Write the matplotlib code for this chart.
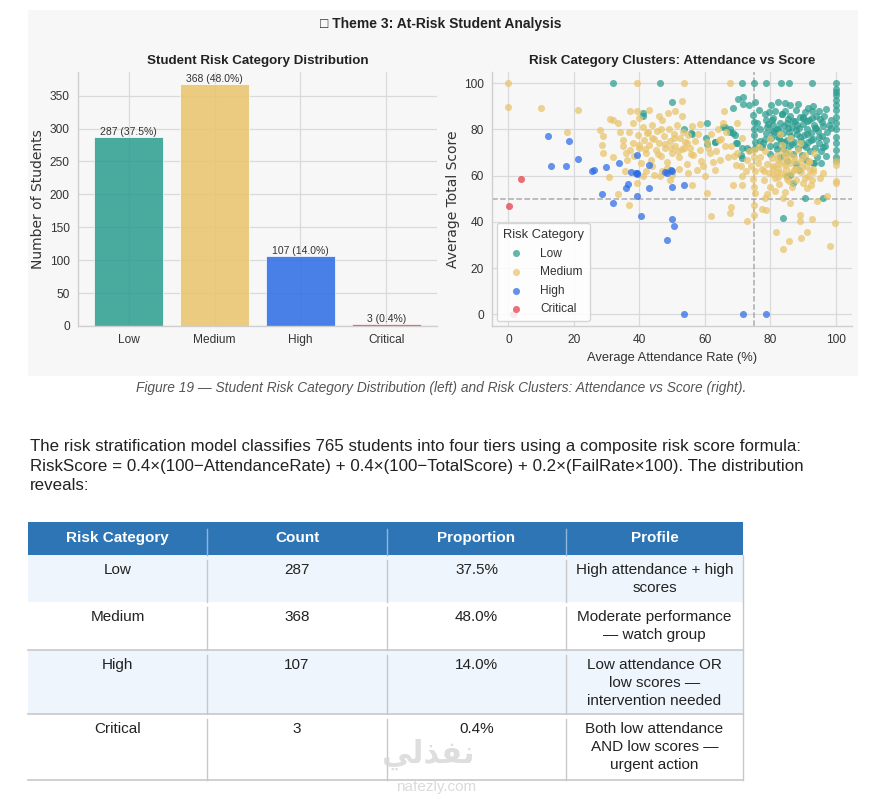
import matplotlib
matplotlib.use('Agg')
import matplotlib.pyplot as plt
from matplotlib.lines import Line2D
from matplotlib.patches import Rectangle

# ---- data ----
risk_categories = ['Low', 'Medium', 'High', 'Critical']
counts = [287, 368, 107, 3]
proportions = [37.5, 48.0, 14.0, 0.4]
profiles = [
    'High attendance + high\nscores',
    'Moderate performance\n\u2014 watch group',
    'Low attendance OR\nlow scores \u2014\nintervention needed',
    'Both low attendance\nAND low scores \u2014\nurgent action',
]
palette = {'Low': '#2a9d8f', 'Medium': '#e9c46a', 'High': '#2b6be5', 'Critical': '#e63946'}

low_att = [32.0, 46.3, 71.4, 75.0, 78.6, 83.4, 85.7, 92.9, 100.0,
           100.0, 100.0, 100.0, 100.0, 100.0, 100.0, 100.0, 100.0, 100.0, 100.0, 100.0, 100.0, 100.0, 100.0,
           50.0, 41.0, 41.2, 53.6, 56.0, 60.6, 60.3, 63.1, 66.2, 67.7, 68.7, 70.3, 71.6, 71.8, 73.4, 75.4,
           80.3, 82.3, 55.9, 60.6, 63.2, 65.7, 67.8, 69.3, 69.8, 71.3, 71.3, 73.4, 68.7, 69.7, 71.2, 72.8,
           74.8, 75.0, 75.2, 75.0, 75.3, 75.4, 78.5, 78.7, 78.9, 78.7, 78.4,
           77.0, 77.5, 77.8, 79.8, 80.2, 80.5, 80.8, 81.0, 81.5, 81.7, 82.0, 82.2, 82.5, 83.0, 83.2, 83.5,
           83.8, 84.0, 84.3, 84.6, 84.8, 85.0, 85.3, 85.6, 85.9, 86.2, 86.5, 86.8, 87.0, 87.3, 87.6, 87.9,
           88.2, 88.5, 88.8, 89.1, 89.4, 89.7, 90.0, 90.3, 90.6, 90.9, 91.2, 91.5, 91.8, 92.1, 92.4, 92.7,
           93.0, 93.3, 93.6, 93.9, 94.2, 94.5, 94.8, 95.1, 95.4, 95.7, 96.0, 96.5, 96.8, 97.2, 97.5, 98.0,
           98.5, 85.0, 88.0, 91.0, 93.5, 95.5, 83.0, 80.0, 86.0, 88.5, 91.5, 93.0, 95.0, 97.0, 98.5, 90.0,
           84.5, 79.5, 76.5, 76.0, 77.0,
           81.2, 82.8, 84.1, 85.4, 86.6, 87.8, 89.0, 90.2, 91.4, 92.6, 93.8, 95.0, 96.2, 80.6, 83.6, 86.9,
           89.9, 92.9, 95.9, 79.2, 82.1, 85.2, 88.1, 91.1, 94.1, 97.0,
           90.6, 96.2, 83.8, 85.0, 88.8, 93.2, 87.0, 86.0]
low_score = [100.0, 100.0, 100.0, 100.0, 100.0, 100.0, 100.0, 100.0, 100.0,
             97.7, 96.3, 94.8, 92.7, 90.5, 88.4, 85.5, 82.6, 80.0, 76.8, 74.0, 71.1, 68.2, 66.5,
             92.1, 87.1, 86.0, 80.1, 78.0, 83.0, 76.3, 74.8, 81.0, 80.1, 89.2, 93.4, 94.1, 91.2, 90.8, 92.0,
             90.8, 91.7, 78.3, 73.9, 74.7, 81.2, 79.0, 77.6, 74.0, 71.8, 67.5, 71.1, 78.4, 74.1, 69.1, 71.9,
             86.2, 83.3, 80.4, 77.6, 74.7, 71.8, 86.9, 84.0, 81.2, 78.3, 76.1,
             75.0, 72.5, 74.0, 73.0, 76.5, 79.5, 82.0, 85.0, 88.0, 73.5, 71.5, 77.0, 80.0, 83.0, 75.0, 86.5,
             72.0, 78.5, 81.5, 88.0, 70.0, 75.5, 84.5, 79.0, 73.0, 86.0, 77.0, 81.0, 69.5, 74.5, 83.5, 88.5,
             78.0, 72.0, 80.5, 85.5, 75.0, 69.0, 82.5, 77.5, 87.5, 72.5, 80.0, 74.5, 84.0, 70.5, 78.5, 88.0,
             76.0, 82.0, 72.0, 86.0, 68.0, 79.5, 74.0, 84.5, 70.5, 77.0, 81.5, 86.0, 73.0, 68.5, 79.0, 82.0,
             80.5, 66.5, 65.0, 67.0, 65.5, 65.5, 68.0, 69.5, 90.5, 91.0, 89.5, 90.0, 88.0, 89.0, 84.0, 85.0,
             91.5, 87.5, 88.5, 83.0, 80.0,
             78.8, 76.2, 74.6, 80.6, 73.8, 79.6, 76.6, 73.2, 78.2, 75.6, 80.8, 76.8, 72.4, 84.2, 86.6, 83.8,
             85.4, 84.8, 83.4, 82.4, 80.2, 82.6, 81.8, 83.6, 80.6, 75.6,
             50.4, 50.4, 41.7, 59.7, 62.6, 65.5, 56.8, 60.5]

medium_att = [0.0, 0.0, 10.1, 21.4, 17.8, 39.2, 53.6, 67.7, 53.1, 37.2, 39.2, 43.1, 48.9, 31.1, 32.1, 33.6,
              28.0, 29.0, 28.6, 29.0, 32.1, 35.0, 35.0, 37.2, 36.2, 35.6, 30.8, 33.4, 36.9, 39.2, 50.0, 49.4,
              46.3,
              37.0, 38.0, 38.5, 39.5, 40.0, 40.5, 41.0, 41.5, 42.0, 42.5, 43.0, 43.5, 44.0, 44.5, 45.0, 45.5,
              46.0, 46.5, 47.0, 47.5, 48.0, 48.5, 49.0, 49.5, 50.0, 50.5, 51.0, 51.5, 52.0, 52.5, 53.0, 53.5,
              54.0, 54.5, 55.0, 55.5, 56.0, 56.5, 57.0, 57.5, 58.0, 58.5, 59.0, 40.0, 44.0, 42.0, 46.0, 48.5,
              52.0, 38.0, 36.0, 34.0, 41.0, 44.5, 47.0, 55.0, 56.0, 53.0, 51.0,
              39.8, 41.8, 43.8, 45.8, 47.8, 49.8, 51.8, 53.8, 55.8, 42.6, 46.6, 50.6, 54.6,
              60.6, 61.6, 59.6, 60.8, 61.8, 63.2, 64.7, 66.2, 65.7, 67.7, 67.9, 71.2, 71.5, 71.5, 73.0, 75.1,
              75.4, 74.9, 75.4, 76.4, 77.4, 78.6, 78.4, 81.9, 83.8, 84.0, 85.7, 86.0, 89.1, 89.1, 89.3, 91.1,
              92.9, 94.2, 97.3, 99.8, 98.3, 100.0, 100.0, 100.0, 100.0, 91.1, 92.9, 96.2, 92.1, 95.2,
              62.0, 63.5, 65.0, 67.0, 68.0, 69.5, 70.0, 72.5, 73.0, 74.0, 66.0, 70.0, 64.0, 62.5, 58.5, 60.0,
              68.5, 61.0, 64.5, 66.5, 69.0, 71.5, 73.5, 75.0, 75.0, 75.0, 75.0,
              77.0, 77.5, 78.0, 78.5, 79.0, 79.5, 80.0, 80.5, 81.0, 81.5, 82.0, 82.5, 82.8, 83.2, 83.6, 84.0,
              84.4, 84.8, 85.2, 85.6, 86.0, 86.4, 86.8, 87.2, 87.6, 88.0, 88.5, 89.0, 89.5, 90.0, 90.5, 91.0,
              91.5, 92.0, 92.5, 93.0, 93.5, 80.0, 83.0, 86.0, 89.0, 76.5, 79.0, 81.5, 84.0, 82.0, 85.0, 88.0,
              90.5, 78.0,
              82.4, 82.4, 82.4, 84.6, 84.6, 84.6, 87.4, 87.4, 89.8, 89.8, 91.8, 93.2, 80.8, 80.8, 85.8]
medium_score = [100.0, 89.6, 89.4, 88.5, 79.1, 100.0, 100.0, 100.0, 92.4, 87.8, 87.8, 88.5, 87.3, 84.5, 84.2,
                83.0, 79.9, 77.0, 73.4, 69.8, 68.3, 75.5, 72.7, 71.2, 66.9, 61.9, 59.4, 52.2, 47.2, 56.8,
                60.4, 58.3, 59.7,
                79.0, 74.0, 68.5, 77.5, 72.0, 65.5, 81.0, 75.5, 70.0, 78.5, 73.5, 67.0, 82.0, 76.0, 71.0,
                79.5, 74.0, 68.5, 84.0, 77.0, 72.0, 66.0, 80.0, 75.0, 70.0, 78.0, 73.0, 82.0, 68.0, 76.5,
                71.5, 79.0, 74.5, 65.0, 77.5, 72.0, 81.5, 69.0, 75.0, 62.5, 78.0, 71.0, 66.5, 85.0, 64.0,
                62.0, 86.0, 63.5, 63.0, 83.0, 70.0, 79.0, 60.0, 60.5, 62.0, 61.0, 56.0, 86.0, 88.0,
                73.2, 71.4, 76.2, 69.6, 73.8, 71.8, 70.6, 72.2, 69.4, 78.8, 80.4, 76.4, 74.0,
                74.8, 69.8, 64.0, 52.5, 42.4, 62.6, 66.9, 72.7, 82.7, 43.9, 46.3, 64.0, 59.7, 56.1, 40.3,
                43.2, 52.5, 58.7, 61.9, 65.5, 45.6, 45.3, 50.4, 35.5, 50.4, 28.1, 31.7, 48.2, 40.3, 43.2,
                33.1, 35.5, 41.3, 48.9, 51.1, 39.6, 29.5, 56.8, 57.6, 64.7, 66.2, 54.7, 58.3, 61.2, 62.6,
                59.0,
                78.0, 70.5, 76.0, 68.0, 73.0, 64.5, 70.0, 62.0, 67.0, 64.0, 88.0, 83.0, 80.0, 66.0, 82.5,
                60.0, 56.0, 72.0, 75.5, 79.0, 68.5, 76.5, 70.5, 68.0, 71.0, 55.0, 47.5,
                68.0, 63.0, 58.0, 70.5, 65.0, 61.0, 55.0, 67.5, 63.5, 59.0, 69.0, 65.0, 56.5, 61.0, 73.5,
                66.0, 53.0, 63.0, 58.5, 70.0, 65.5, 61.0, 55.0, 68.0, 63.0, 58.0, 71.0, 66.0, 61.5, 57.0,
                69.0, 64.0, 60.0, 66.5, 56.0, 61.5, 70.0, 76.0, 78.0, 76.5, 74.0, 72.5, 52.0, 53.5, 70.5,
                61.5, 67.5, 63.0, 59.0, 62.0,
                66.8, 63.2, 59.6, 68.4, 64.6, 60.2, 66.2, 62.4, 67.8, 63.6, 65.8, 62.8, 64.2, 60.6, 57.8]

high_att = [12.0, 18.6, 13.1, 17.5, 21.4, 25.5, 26.2, 29.8, 33.9, 28.6, 32.1, 35.8, 36.7, 37.5, 39.2, 39.2,
            39.2, 39.2, 40.6, 42.9, 42.9, 48.4, 49.8, 50.0, 50.0, 50.6, 48.4, 53.6, 50.0, 53.6, 71.6, 78.6,
            39.0, 48.0]
high_score = [77.4, 75.1, 64.0, 64.3, 67.3, 62.0, 62.3, 63.7, 65.6, 51.9, 48.2, 54.7, 56.5, 61.4, 60.7, 61.2,
              69.1, 51.1, 42.7, 64.7, 54.7, 61.2, 62.6, 55.0, 41.3, 38.4, 32.4, 55.8, 62.2, 0.0, 0.0, 0.0,
              61.0, 61.5]

critical_att = [4.0, 0.2, 1.5]
critical_score = [58.5, 47.0, 0.0]

attendance_cutoff = 75
score_cutoff = 50

# ---- layout helpers (pixel based, figure is 872x798) ----
W, H = 872, 798
SANS = ['Liberation Sans', 'DejaVu Sans']
INK = '#333333'
GRID = '#dadada'
PANEL = '#f7f7f7'
AX_TOP, AX_BOTTOM = 71.7, 326
AX_H = AX_BOTTOM - AX_TOP


def fx(px):
    return px / W


def fy(py):
    return 1 - py / H


def style_axes(ax):
    ax.set_facecolor(PANEL)
    ax.grid(True, color=GRID, linewidth=0.9)
    ax.set_axisbelow(True)
    for side in ('top', 'right'):
        ax.spines[side].set_visible(False)
    for side in ('left', 'bottom'):
        ax.spines[side].set_color('#cfcfcf')
        ax.spines[side].set_linewidth(1.0)
    ax.tick_params(length=0, pad=6, labelsize=8.6, labelcolor=INK)
    for lab in ax.get_xticklabels() + ax.get_yticklabels():
        lab.set_family(SANS)


def axes_title(ax, text):
    ax.text(0.5, 1 + (AX_TOP - 61) / AX_H, text, transform=ax.transAxes, ha='center', va='center',
            fontsize=9.6, fontweight='bold', color='#222222', family=SANS)


fig = plt.figure(figsize=(W / 100, H / 100), dpi=100)
fig.patch.set_facecolor('white')

# grey panel behind the two charts
fig.add_artist(Rectangle((fx(28), fy(376)), (858 - 28) / W, (376 - 10) / H,
                         transform=fig.transFigure, facecolor=PANEL, edgecolor='none', zorder=-5))

fig.text(fx(441), fy(24), '\u25a1 Theme 3: At-Risk Student Analysis', ha='center', va='center',
         fontsize=10, fontweight='bold', color='#222222', family=SANS)

# ---- left: bar chart ----
ax1 = fig.add_axes([fx(78), fy(AX_BOTTOM), (437 - 78) / W, AX_H / H])
x_pos = list(range(len(risk_categories)))
ax1.bar(x_pos, counts, width=0.8, color=[palette[c] for c in risk_categories], alpha=0.85,
        edgecolor='white', linewidth=0.6, zorder=2)
for i, (n, p) in enumerate(zip(counts, proportions)):
    ax1.text(i, n, f'{n} ({p:.1f}%)', ha='center', va='bottom', fontsize=7.5, color=INK, family=SANS)
ax1.set_xticks(x_pos)
ax1.set_xticklabels(risk_categories)
ax1.set_xlim(-0.59, 3.59)
ax1.set_ylim(0, max(counts) * 1.05)
ax1.set_yticks(range(0, 351, 50))
style_axes(ax1)
axes_title(ax1, 'Student Risk Category Distribution')
ax1.set_ylabel('Number of Students', fontsize=10, color=INK)
ax1.yaxis.label.set_va('center')
ax1.yaxis.set_label_coords((38 - 78) / 359, 0.5)

# ---- right: scatter ----
ax2 = fig.add_axes([fx(492), fy(AX_BOTTOM), (852 - 492) / W, AX_H / H])
series = [
    ('Low', low_att, low_score),
    ('Medium', medium_att, medium_score),
    ('High', high_att, high_score),
    ('Critical', critical_att, critical_score),
]
for name, xs, ys in series:
    ax2.scatter(xs, ys, s=26, color=palette[name], alpha=0.72, linewidths=0, label=name, zorder=3)
ax2.axhline(score_cutoff, color='#9a9a9a', linestyle='--', linewidth=1.1, alpha=0.8, zorder=2)
ax2.axvline(attendance_cutoff, color='#9a9a9a', linestyle='--', linewidth=1.1, alpha=0.8, zorder=2)
ax2.set_xlim(-5, 105)
ax2.set_ylim(-5, 105)
ax2.set_xticks(range(0, 101, 20))
ax2.set_yticks(range(0, 101, 20))
style_axes(ax2)
axes_title(ax2, 'Risk Category Clusters: Attendance vs Score')
ax2.set_xlabel('Average Attendance Rate (%)', fontsize=9.3, color=INK, family=SANS)
ax2.xaxis.label.set_va('center')
ax2.xaxis.set_label_coords(0.5, -(358 - AX_BOTTOM) / AX_H)
ax2.set_ylabel('Average Total Score', fontsize=10, color=INK)
ax2.yaxis.label.set_va('center')
ax2.yaxis.set_label_coords((453 - 492) / 360, 0.5)
leg = ax2.legend(title='Risk Category', loc='lower left', prop={'family': SANS, 'size': 8.6},
                 title_fontproperties={'family': SANS, 'size': 9.3}, frameon=True, facecolor='white',
                 edgecolor='#d0d0d0', framealpha=0.85, handletextpad=1.0, labelspacing=0.55,
                 borderaxespad=0.4, borderpad=0.5)
leg.get_title().set_color(INK)
for t in leg.get_texts():
    t.set_color(INK)

# ---- caption and paragraph ----
fig.text(fx(441), fy(388), 'Figure 19 \u2014 Student Risk Category Distribution (left) and Risk Clusters: '
         'Attendance vs Score (right).', ha='center', va='center', fontsize=9.9, style='italic',
         color='#555555', family=SANS)
paragraph = [
    'The risk stratification model classifies 765 students into four tiers using a composite risk score formula:',
    'RiskScore = 0.4\u00d7(100\u2212AttendanceRate) + 0.4\u00d7(100\u2212TotalScore) + 0.2\u00d7(FailRate\u00d7100). '
    'The distribution',
    'reveals:',
]
for k, line in enumerate(paragraph):
    fig.text(fx(30), fy(447 + 19 * k), line, ha='left', va='center', fontsize=12.2, color='#222222',
             family=SANS)

# ---- table ----
col_edges = [28, 207, 387, 566, 743]
header_top, header_bottom = 522, 555
row_edges = [555, 602, 650, 714, 780]
headers = ['Risk Category', 'Count', 'Proportion', 'Profile']
HEADER_BG = '#2e75b6'
STRIPE = '#eef5fd'
LINE = '#c8c8c8'

fig.add_artist(Rectangle((fx(col_edges[0]), fy(header_bottom)), (col_edges[-1] - col_edges[0]) / W,
                         (header_bottom - header_top) / H, transform=fig.transFigure,
                         facecolor=HEADER_BG, edgecolor='none'))
for c, head in enumerate(headers):
    cx = (col_edges[c] + col_edges[c + 1]) / 2
    fig.text(fx(cx), fy(538), head, ha='center', va='center', fontsize=11, fontweight='bold',
             color='white', family=SANS)
    if c > 0:
        fig.add_artist(Line2D([fx(col_edges[c])] * 2, [fy(529), fy(header_bottom)],
                              transform=fig.transFigure, color='#8fb5dc', linewidth=1))

for r, cat in enumerate(risk_categories):
    top, bottom = row_edges[r], row_edges[r + 1]
    if r % 2 == 0:
        fig.add_artist(Rectangle((fx(col_edges[0]), fy(bottom)), (col_edges[-1] - col_edges[0]) / W,
                                 (bottom - top) / H, transform=fig.transFigure, facecolor=STRIPE,
                                 edgecolor='none'))
    cells = [cat, str(counts[r]), f'{proportions[r]:.1f}%', profiles[r]]
    for c, txt in enumerate(cells):
        cx = (col_edges[c] + col_edges[c + 1]) / 2
        for j, part in enumerate(txt.split('\n')):
            fig.text(fx(cx), fy(top + 15 + 18 * j), part, ha='center', va='center', fontsize=11,
                     color='#222222', family=SANS)
        if c > 0:
            fig.add_artist(Line2D([fx(col_edges[c])] * 2, [fy(top + 5), fy(bottom)],
                                  transform=fig.transFigure, color=LINE, linewidth=1))
    fig.add_artist(Line2D([fx(col_edges[-1])] * 2, [fy(top), fy(bottom)],
                          transform=fig.transFigure, color=LINE, linewidth=1))
    if r > 0:
        fig.add_artist(Line2D([fx(col_edges[0]), fx(col_edges[-1])], [fy(bottom)] * 2,
                              transform=fig.transFigure, color=LINE, linewidth=1.2))

# faint site watermark
fig.text(fx(428), fy(754), '\ufef2\ufedf\ufeac\ufed4\ufee7', ha='center', va='center', fontsize=22,
         fontweight='bold', color='#d6d6d6', alpha=0.8, family=['DejaVu Sans'])
fig.text(fx(436), fy(787), 'nafezly.com', ha='center', va='center', fontsize=11, color='#d6d6d6',
         alpha=0.9, family=SANS)

fig.savefig('out.png', dpi=100, facecolor='white')
